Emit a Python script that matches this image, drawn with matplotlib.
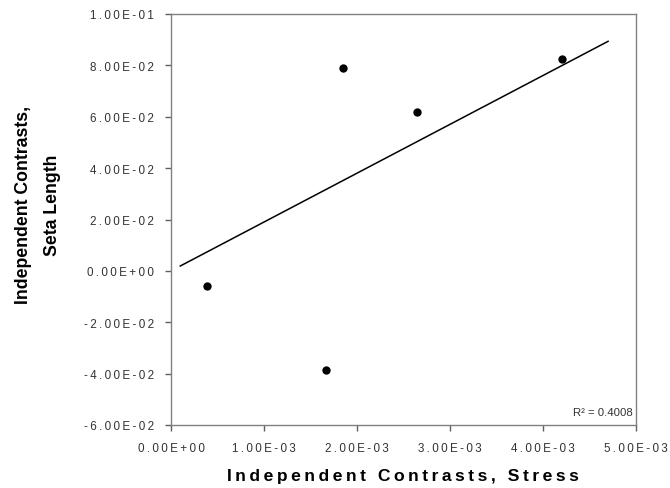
import numpy as np
import matplotlib
matplotlib.use("Agg")
import matplotlib.pyplot as plt
from matplotlib.ticker import FuncFormatter, MultipleLocator

plt.rcParams['font.family'] = ['Liberation Sans', 'DejaVu Sans']

# Data
stress = [0.000387, 0.001667, 0.001853, 0.00265, 0.0042]
seta_length = [-0.0059, -0.0385, 0.0790, 0.0617, 0.0825]
trend_x_range = [0.0001, 0.0047]
r2_label = "R² = 0.4008"
x_title = "Independent Contrasts, Stress"
y_title = "Independent Contrasts,\nSeta Length"

TS = "\u2009"

def spaced(s):
    return TS.join(list(s))

fig = plt.figure(figsize=(6.7, 4.89), dpi=100)
ax = fig.add_axes([171/670, 1-426/489, 465/670, 411/489])

ax.scatter(stress, seta_length, s=36, color='black', zorder=3, linewidths=0)

# linear trendline with intercept forced to zero (as drawn)
xs = np.array(stress); ys = np.array(seta_length)
slope = np.sum(xs*ys)/np.sum(xs*xs)
tx = np.array(trend_x_range)
ax.plot(tx, slope*tx, color='black', lw=1.1, zorder=2)

ax.set_xlim(0, 0.005)
ax.set_ylim(-0.06, 0.10)
ax.xaxis.set_major_locator(MultipleLocator(0.001))
ax.yaxis.set_major_locator(MultipleLocator(0.02))

fmt = FuncFormatter(lambda v, p: spaced(f"{v:.2E}"))
ax.xaxis.set_major_formatter(fmt)
ax.yaxis.set_major_formatter(fmt)

for s in ax.spines.values():
    s.set_color('#808080')
    s.set_linewidth(1.0)
ax.tick_params(direction='out', length=4, width=1.0, color='#606060',
               labelsize=8.4, labelcolor='#333333', pad=8)

ax.text(0.992, 0.02, r2_label, transform=ax.transAxes, ha='right', va='bottom',
        fontsize=8.2, color='#333333')

fig.text(403/670, 1-477/489, spaced(x_title), ha='center', va='center',
         fontsize=12.6, fontweight='bold', color='black')
fig.text(38/670, 1-205/489, y_title, ha='center', va='center', rotation=90,
         fontsize=12.7, fontweight='bold', color='black', multialignment='center',
         linespacing=1.9)

fig.savefig("out.png", dpi=100)
